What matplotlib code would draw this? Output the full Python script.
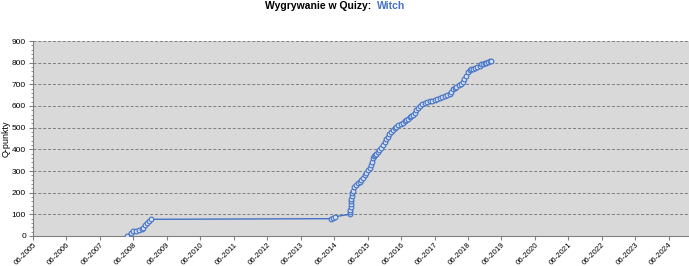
import matplotlib

matplotlib.use("Agg")
import matplotlib.dates as mdates
import matplotlib.pyplot as plt
import pandas as pd
from matplotlib.ticker import MultipleLocator

plt.rcParams["font.family"] = ["Liberation Sans", "DejaVu Sans"]

# dates as decimal years, Q-points
years = [
    2008.22, 2008.34, 2008.41, 2008.49, 2008.59, 2008.67, 2008.71, 2008.77,
    2008.83, 2008.89, 2008.93,
    2014.31, 2014.38, 2014.43,
    2014.88, 2014.89, 2014.90, 2014.91, 2014.92, 2014.93, 2014.93, 2014.94,
    2014.95, 2014.98, 2015.01, 2015.06, 2015.13, 2015.18, 2015.23, 2015.28,
    2015.33, 2015.38, 2015.43, 2015.48, 2015.53, 2015.55, 2015.58, 2015.60,
    2015.63, 2015.68, 2015.72, 2015.77, 2015.83, 2015.87, 2015.92, 2015.97,
    2016.02, 2016.07, 2016.12, 2016.17, 2016.22, 2016.27, 2016.32, 2016.40,
    2016.47, 2016.52, 2016.57, 2016.62, 2016.67, 2016.72, 2016.77, 2016.82,
    2016.87, 2016.92, 2016.97, 2017.04, 2017.12, 2017.19, 2017.27, 2017.34,
    2017.42, 2017.49, 2017.57, 2017.64, 2017.72, 2017.79, 2017.87, 2017.92,
    2017.97, 2018.02, 2018.07, 2018.14, 2018.21, 2018.26, 2018.31, 2018.36,
    2018.41, 2018.46, 2018.51, 2018.56, 2018.61, 2018.69, 2018.76, 2018.81,
    2018.86, 2018.91, 2018.96, 2019.01, 2019.06, 2019.11,
]
points = [
    0, 15, 22, 25, 28, 31, 38, 51,
    61, 71, 77,
    80, 84, 89,
    100, 110, 122, 135, 148, 160, 172, 185,
    197, 210, 226, 236, 245, 251, 258, 268,
    281, 292, 305, 314, 328, 343, 358, 367,
    374, 379, 389, 397, 405, 420, 435, 447,
    458, 470, 481, 489, 497, 505, 512, 516,
    521, 530, 536, 542, 548, 555, 560, 570,
    581, 592, 601, 607, 612, 618, 621, 625,
    629, 633, 637, 640, 645, 650, 657, 665,
    677, 684, 690, 697, 703, 712, 725, 740,
    756, 765, 769, 772, 775, 780, 786, 792,
    796, 797, 798, 803, 807, 810,
]


def to_date(y):
    year = int(y)
    start = pd.Timestamp(year=year, month=1, day=1)
    return start + pd.Timedelta(days=(y - year) * 365.25)


dates = [to_date(y) for y in years]

fig = plt.figure(figsize=(6.89, 2.66), dpi=100)
ax = fig.add_axes([33 / 689, 1 - 236 / 266, 656 / 689, 195 / 266])
ax.set_facecolor("#D9D9D9")

ax.plot(dates, points, "-o", color="#4472C4", linewidth=1.0,
        markersize=3.4, markeredgewidth=0.8, markerfacecolor="#D6E0F4",
        markeredgecolor="#4472C4", zorder=3)

ax.set_ylim(0, 900)
ax.yaxis.set_major_locator(MultipleLocator(100))
ax.yaxis.set_minor_locator(MultipleLocator(20))
ax.grid(axis="y", which="major", color="#7F7F7F", linestyle=(0, (3, 2)),
        linewidth=0.7, zorder=1)

ax.set_xlim(pd.Timestamp("2005-06-01"), pd.Timestamp("2025-01-08"))
ax.xaxis.set_major_locator(mdates.MonthLocator(bymonth=6, bymonthday=1))
ax.xaxis.set_major_formatter(mdates.DateFormatter("%m-%Y"))
for lbl in ax.get_xticklabels():
    lbl.set_rotation(45)
    lbl.set_ha("right")
    lbl.set_rotation_mode("anchor")

ax.tick_params(axis="x", labelsize=5.7, length=3, color="#808080", pad=1)
ax.tick_params(axis="y", which="major", labelsize=6, length=3, color="#808080", pad=2)
ax.tick_params(axis="y", which="minor", length=1.5, color="#808080")

for side in ("top", "right"):
    ax.spines[side].set_visible(False)
for side in ("left", "bottom"):
    ax.spines[side].set_color("#808080")
    ax.spines[side].set_linewidth(0.8)

ax.set_ylabel("Q-punkty", fontsize=6.5, labelpad=1)

fig.text(374 / 689, 1 - 9 / 266, "Wygrywanie w Quizy: ", ha="right", va="baseline",
         fontsize=7.5, fontweight="bold", color="black")
fig.text(377 / 689, 1 - 9 / 266, "Witch", ha="left", va="baseline",
         fontsize=7.5, fontweight="bold", color="#4472C4")

fig.savefig("out.png", dpi=100)
